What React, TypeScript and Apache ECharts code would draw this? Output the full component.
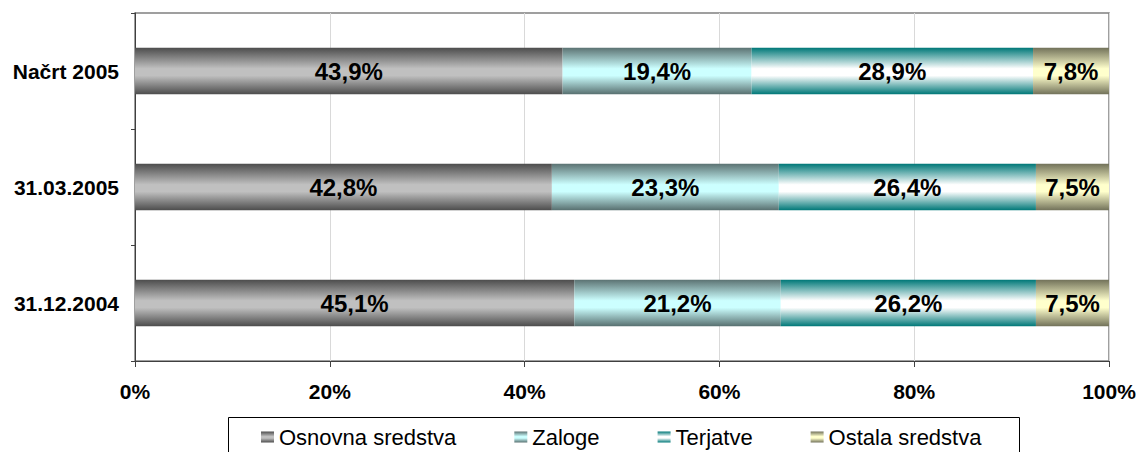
import React, { useEffect, useRef } from "react";
import * as echarts from "echarts";

const categories = ["31.12.2004", "31.03.2005", "Načrt 2005"];
const seriesNames = ["Osnovna sredstva", "Zaloge", "Terjatve", "Ostala sredstva"];
const osnovna = [45.1, 42.8, 43.9];
const zaloge = [21.2, 23.3, 19.4];
const terjatve = [26.2, 26.4, 28.9];
const ostala = [7.5, 7.5, 7.8];
const xTicks = [0, 20, 40, 60, 80, 100];

const FONT = 'Arial, "Liberation Sans", sans-serif';

function grad(edgeTop: string, mid: string, edgeBottom: string) {
  return new echarts.graphic.LinearGradient(0, 0, 0, 1, [
    { offset: 0, color: edgeTop },
    { offset: 0.45, color: mid },
    { offset: 0.6, color: mid },
    { offset: 1, color: edgeBottom },
  ]);
}

export default function App() {
  const ref = useRef<HTMLDivElement>(null);
  useEffect(() => {
    if (!ref.current) return;
    const chart = echarts.init(ref.current, undefined, { renderer: "svg" });
    const colors = [
      grad("#4d4d4d", "#c0c0c0", "#4d4d4d"),
      grad("#5c7373", "#ccffff", "#587070"),
      grad("#007878", "#ffffff", "#007878"),
      grad("#72725a", "#ffffcc", "#72725a"),
    ];
    const data = [osnovna, zaloge, terjatve, ostala];
    const option: any = {
      animation: false,
      backgroundColor: "#ffffff",
      grid: {
        left: 135,
        right: 32,
        top: 13,
        bottom: 91,
        show: true,
        borderColor: "#808080",
        borderWidth: 1.5,
        containLabel: false,
      },
      xAxis: {
        type: "value",
        min: xTicks[0],
        max: xTicks[xTicks.length - 1],
        interval: 20,
        axisLine: { show: true, lineStyle: { color: "#404040", width: 1 } },
        axisTick: { show: true, length: 6, lineStyle: { color: "#404040" } },
        splitLine: { show: true, lineStyle: { color: "#d9d9d9", width: 1 } },
        axisLabel: {
          formatter: "{value}%",
          color: "#000",
          fontFamily: FONT,
          fontWeight: "bold",
          fontSize: 21,
          margin: 20,
        },
      },
      yAxis: {
        type: "category",
        data: categories,
        axisLine: { show: true, lineStyle: { color: "#404040", width: 1 } },
        axisTick: { show: true, length: 4, lineStyle: { color: "#404040" } },
        splitLine: { show: false },
        axisLabel: {
          color: "#000",
          fontFamily: FONT,
          fontWeight: "bold",
          fontSize: 21,
          margin: 16,
        },
      },
      legend: {
        data: seriesNames,
        left: 256,
        top: 421,
        icon: "rect",
        itemWidth: 13,
        itemHeight: 11,
        itemGap: 58,
        textStyle: { color: "#000", fontFamily: FONT, fontSize: 22 },
      },
      graphic: [
        {
          type: "rect",
          left: 226,
          top: 415,
          shape: { x: 0, y: 0, width: 791, height: 60 },
          style: { fill: "none", stroke: "#000", lineWidth: 1 },
          silent: true,
        },
      ],
      series: seriesNames.map((name, i) => ({
        name,
        type: "bar",
        stack: "total",
        barWidth: "40%",
        data: data[i],
        itemStyle: { color: colors[i] },
        label: {
          show: true,
          position: "inside",
          color: "#000",
          fontFamily: FONT,
          fontWeight: "bold",
          fontSize: 24,
          formatter: (p: any) => Number(p.value).toFixed(1).replace(".", ",") + "%",
        },
      })),
    };
    chart.setOption(option);
    return () => chart.dispose();
  }, []);
  return (
    <div
      ref={ref}
      style={{ position: "fixed", left: 0, top: 0, width: 1141, height: 452 }}
    />
  );
}
